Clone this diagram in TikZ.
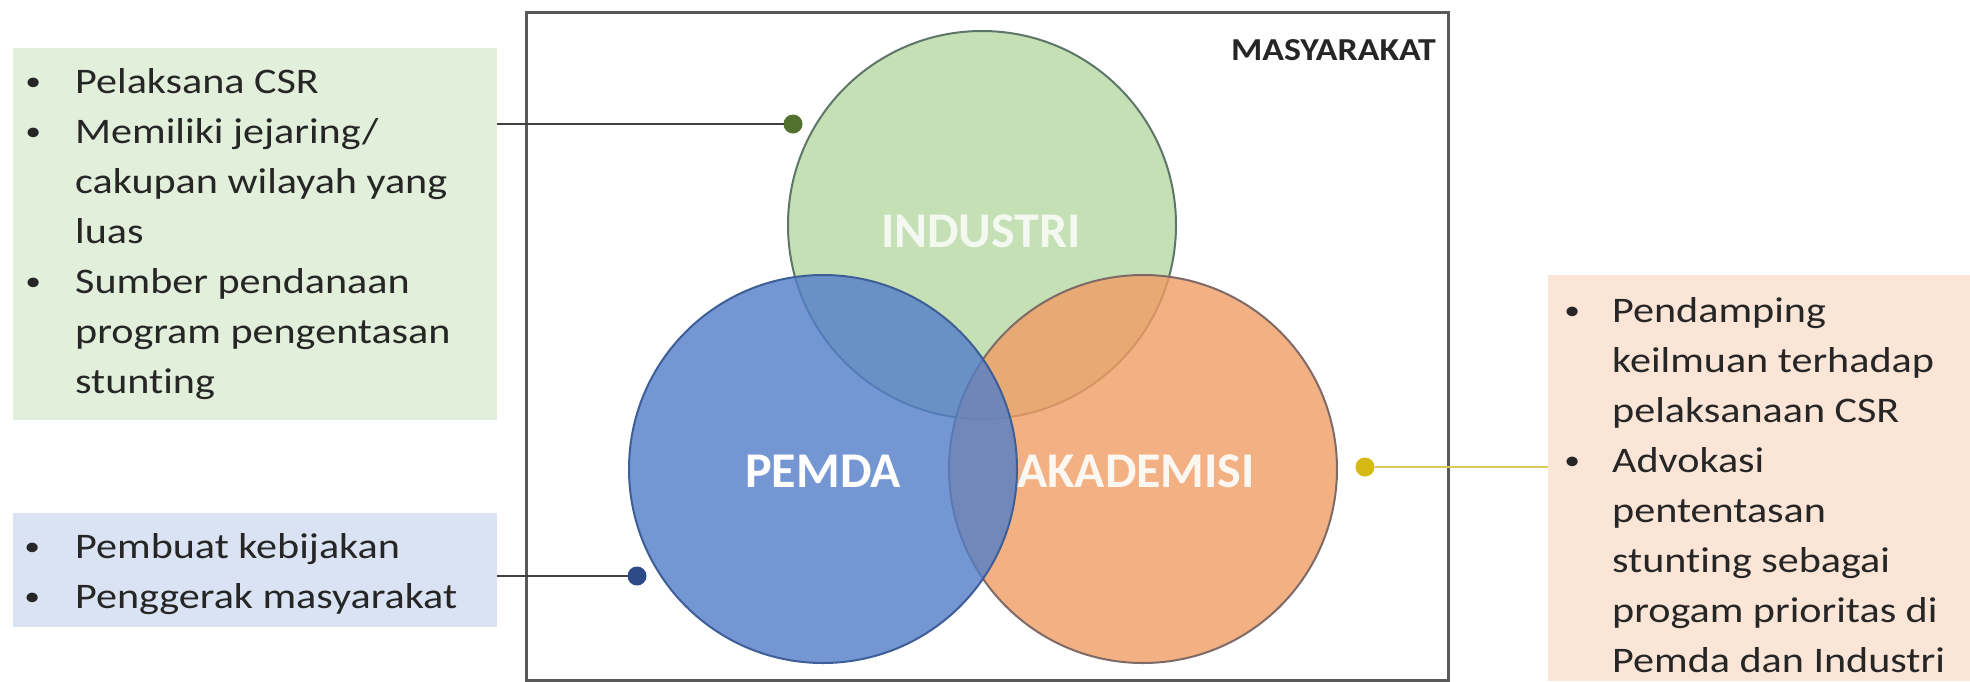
\documentclass[tikz,border=0pt]{standalone}
\usepackage{fontspec}
\setmainfont{Carlito}[Ligatures=NoCommon]
\newfontfamily\bodyfont{Carlito}[FakeStretch=1.17, Ligatures=NoCommon]
\newfontfamily\headfont{Carlito}[FakeStretch=1.12, Ligatures=NoCommon]

\definecolor{boxgreen}{HTML}{E2EFDA}
\definecolor{boxblue}{HTML}{DAE3F3}
\definecolor{boxorange}{HTML}{FBE5D6}
\definecolor{framegray}{HTML}{595959}
\definecolor{inktext}{HTML}{262626}
\definecolor{vgreen}{HTML}{C5E0B4}
\definecolor{vgreenline}{HTML}{5E7668}
\definecolor{vorange}{HTML}{F19D64}
\definecolor{vorangeline}{HTML}{7E6A66}
\definecolor{vblue}{HTML}{527ECA}
\definecolor{vblueline}{HTML}{3D5E96}
\definecolor{dotgreen}{HTML}{52702F}
\definecolor{dotblue}{HTML}{2E4A87}
\definecolor{dotyellow}{HTML}{D4BA12}
\definecolor{lineyellow}{HTML}{D8CB5A}
\definecolor{linegray}{HTML}{404040}

% bullet row: small bullet centred on the left edge, text after a fixed indent
\newcommand{\bulrow}[1]{\makebox[#1][l]{\makebox[0pt]{\raisebox{2.5pt}{\fontsize{27}{27}\selectfont •}}}}
\newcommand{\indrow}[1]{\hspace*{#1}}

\begin{document}
\begin{tikzpicture}[x=1pt,y=-1pt,
  panel/.style={rectangle, anchor=north west, inner sep=0pt, outer sep=0pt, draw=none},
  venn/.style={circle, minimum size=388pt, inner sep=0pt, line width=2pt},
  vennlabel/.style={anchor=base, font=\fontsize{50}{60}\selectfont\bfseries},
  bulletlist/.style={anchor=base west, inner sep=0pt, text=inktext,
    font=\bodyfont\fontsize{36}{50}\selectfont},
  joint/.style={circle, minimum size=19pt, inner sep=0pt, outer sep=0pt},
  conn/.style={line width=2pt, draw=linegray}
]
\useasboundingbox (0,0) rectangle (1970,681);
\fill[white] (0,0) rectangle (1970,681);

% coloured information panels
\node[panel, fill=boxgreen, minimum width=484pt, minimum height=372pt] (gbox) at (13,48) {};
\node[panel, fill=boxblue, minimum width=484pt, minimum height=114pt] (bbox) at (13,513) {};
\node[panel, fill=boxorange, minimum width=422pt, minimum height=406pt] (obox) at (1548,275) {};

% panel texts
\node[bulletlist] (gtext) at (33,93) {\begin{tabular}[t]{@{}l@{}}
\bulrow{42pt}Pelaksana CSR\\
\bulrow{42pt}Memiliki jejaring/\\
\indrow{42pt}cakupan wilayah yang\\
\indrow{42pt}luas\\
\bulrow{42pt}Sumber pendanaan\\
\indrow{42pt}program pengentasan\\
\indrow{42pt}stunting
\end{tabular}};

\node[bulletlist] (btext) at (32,558) {\begin{tabular}[t]{@{}l@{}}
\bulrow{43pt}Pembuat kebijakan\\
\bulrow{43pt}Penggerak masyarakat
\end{tabular}};

\node[bulletlist] (otext) at (1572,322) {\begin{tabular}[t]{@{}l@{}}
\bulrow{40pt}Pendamping\\
\indrow{40pt}keilmuan terhadap\\
\indrow{40pt}pelaksanaan CSR\\
\bulrow{40pt}Advokasi\\
\indrow{40pt}pententasan\\
\indrow{40pt}stunting sebagai\\
\indrow{40pt}progam prioritas di\\
\indrow{40pt}Pemda dan Industri
\end{tabular}};

% society frame
\node[panel, draw=framegray, line width=3pt, minimum width=922pt, minimum height=668pt] (frame) at (526,12) {};
\node[anchor=base east, inner sep=0pt, text=inktext,
  font=\headfont\bfseries\fontsize{32}{38}\selectfont] (society) at (1436,60) {MASYARAKAT};

% three overlapping actors
\node[venn, fill=vgreen, draw=vgreenline] (industri) at (982,225) {};
\node[vennlabel, text=white, text opacity=0.8] (lind) at (981,247) {INDUSTRI};
\node[venn, fill=vorange, fill opacity=0.8, draw=vorangeline] (akademisi) at (1143,469) {};
\node[vennlabel, text=white, text opacity=0.9] (lakd) at (1136,487) {AKADEMISI};
\node[venn, fill=vblue, fill opacity=0.8, draw=vblueline] (pemda) at (823,469) {};
\node[vennlabel, text=white] (lpem) at (823,487) {PEMDA};

% connector dots and leader lines
\node[joint, fill=dotgreen] (gdot) at (793,124) {};
\node[joint, fill=dotblue] (bdot) at (637,576) {};
\node[joint, fill=dotyellow] (ydot) at (1365,467) {};

\draw[conn] (gbox.east |- gdot) -- (gdot);
\draw[conn] (bbox.east |- bdot) -- (bdot);
\draw[conn, draw=lineyellow] (ydot) -- (obox.west |- ydot);
\end{tikzpicture}
\end{document}
